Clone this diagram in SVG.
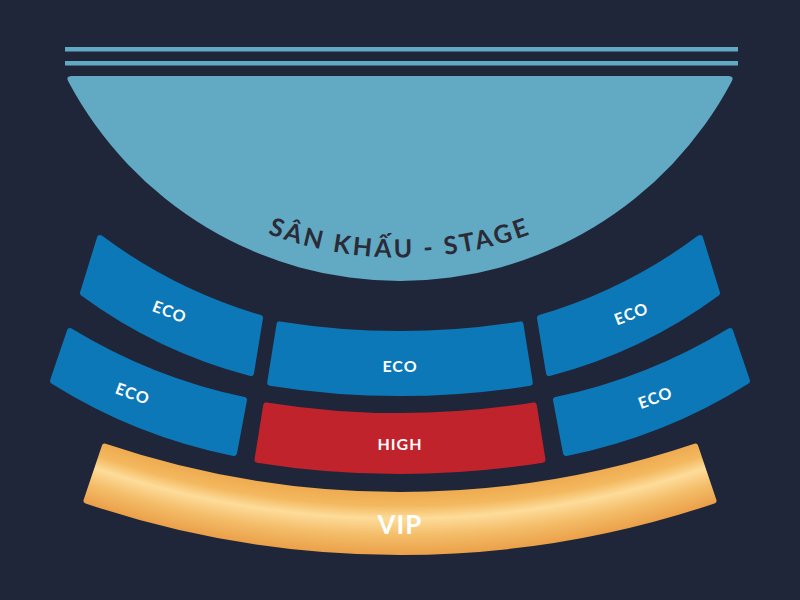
<svg xmlns="http://www.w3.org/2000/svg" width="800" height="600" viewBox="0 0 800 600">
  <defs>
    <style>
      .eco { fill: #0c78b7; stroke: #0c78b7; stroke-width: 6; stroke-linejoin: round; }
      .high { fill: #c0232b; stroke: #c0232b; stroke-width: 6; stroke-linejoin: round; }
      .vip { fill: url(#vipGrad); stroke: url(#vipGrad); stroke-width: 6; stroke-linejoin: round; }
      .lbl { font-family: Lato, "Open Sans", "DejaVu Sans", sans-serif; font-weight: 700; fill: #ffffff; text-anchor: middle; dominant-baseline: central; }
      .stageTxt { font-family: Lato, "Open Sans", "DejaVu Sans", sans-serif; font-weight: 700; fill: #2a2b36; font-size: 25px; letter-spacing: 2.8px; }
    </style>
    <radialGradient id="vipGrad" gradientUnits="userSpaceOnUse" cx="400" cy="-430" r="985">
      <stop offset="0.930" stop-color="#eda54a"/>
      <stop offset="0.950" stop-color="#f3b85e"/>
      <stop offset="0.963" stop-color="#fddc9a"/>
      <stop offset="0.980" stop-color="#f4bd69"/>
      <stop offset="1" stop-color="#eba049"/>
    </radialGradient>
    <path id="stageArc" d="M 210,206.6 A 380 380 0 0 0 590,206.6"/>
  </defs>

  <rect width="800" height="600" fill="#1f2639"/>

  <g id="stage">
    <rect x="65" y="47" width="673" height="4.5" fill="#62a9c3"/>
    <rect x="65" y="61" width="673" height="4.5" fill="#62a9c3"/>
    <path d="M 72,76 L 728,76 Q 735,76 731.4,82 A 375.4 375.4 0 0 1 68.6,82 Q 65,76 72,76 Z" fill="#62a9c3"/>
    <text class="stageTxt"><textPath href="#stageArc" startOffset="50%" text-anchor="middle">SÂN KHẤU - STAGE</textPath></text>
  </g>

  <g id="eco-top-left">
    <path class="eco" d="M 100,238 Q 172.8,292.3 260,318 L 251,373 Q 159.3,349.2 83,293 Z"/>
    <text class="lbl" font-size="16" letter-spacing="1" transform="translate(170,311) rotate(21)">ECO</text>
  </g>
  <g id="eco-bottom-left">
    <path class="eco" d="M 70,331 Q 151.1,380.4 244,400 L 234,453 Q 136.8,433.7 53,381 Z"/>
    <text class="lbl" font-size="16" letter-spacing="1" transform="translate(133,393) rotate(20)">ECO</text>
  </g>
  <g id="eco-top-right">
    <path class="eco" d="M 700,238 Q 627.2,292.3 540,318 L 549,373 Q 640.7,349.2 717,293 Z"/>
    <text class="lbl" font-size="16" letter-spacing="1" transform="translate(631,313) rotate(-21)">ECO</text>
  </g>
  <g id="eco-bottom-right">
    <path class="eco" d="M 730,331 Q 648.9,380.4 556,400 L 566,453 Q 663.2,433.7 747,381 Z"/>
    <text class="lbl" font-size="16" letter-spacing="1" transform="translate(655,397) rotate(-20)">ECO</text>
  </g>
  <g id="eco-center">
    <path class="eco" d="M 279.5,324.4 A 764 764 0 0 0 520.5,324.4 L 529.8,382.7 A 823 823 0 0 1 270.2,382.7 Z"/>
    <text class="lbl" x="400" y="365" font-size="16" letter-spacing="1">ECO</text>
  </g>
  <g id="high">
    <path class="high" d="M 266.2,405.4 A 846 846 0 0 0 533.8,405.4 L 542.5,459.7 A 901 901 0 0 1 257.5,459.7 Z"/>
    <text class="lbl" x="400" y="443" font-size="16" letter-spacing="1">HIGH</text>
  </g>
  <g id="vip">
    <path class="vip" d="M 104.7,446.6 A 925 925 0 0 0 695.3,446.6 L 713.5,500.6 A 982 982 0 0 1 86.5,500.6 Z"/>
    <text class="lbl" x="400" y="524" font-size="26" letter-spacing="1">VIP</text>
  </g>
</svg>
